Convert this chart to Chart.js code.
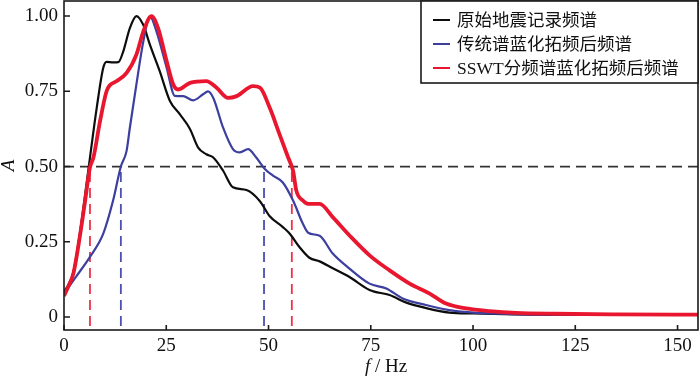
<!DOCTYPE html>
<html>
<head>
<meta charset="utf-8">
<script src="https://cdn.jsdelivr.net/npm/chart.js@4/dist/chart.umd.min.js"></script>
<style>
  html, body { margin: 0; padding: 0; background: #fff; }
  #wrap { width: 700px; height: 380px; }
</style>
</head>
<body>
<div id="wrap"><canvas id="spectrum-chart" width="700" height="380"></canvas></div>
<script>
// tick labels
const xTicks = [0, 25, 50, 75, 100, 125, 150]
const yTicks = [0, 0.25, 0.5, 0.75, 1]

// 原始地震记录频谱
const origF = [0, 1, 2.3, 3.9, 5.1, 6.35, 8, 9.6, 10.4, 12, 13.3, 14.5, 16.1, 17.7, 19.4, 21, 23.4, 25.9, 28.3, 30.8, 32.8, 34.8, 36.5, 38.9, 41.3, 44.6, 47.9, 50.3, 53.5, 55.2, 57.6, 60, 62.5, 65.7, 69.8, 74.7, 79.6, 83.7, 88.5, 94.2, 100, 110, 125, 140, 155]
const origA = [0.085, 0.105, 0.15, 0.28, 0.4, 0.53, 0.695, 0.828, 0.848, 0.846, 0.847, 0.883, 0.96, 1.0, 0.97, 0.905, 0.817, 0.718, 0.674, 0.625, 0.563, 0.541, 0.53, 0.486, 0.431, 0.422, 0.385, 0.335, 0.299, 0.277, 0.232, 0.197, 0.185, 0.162, 0.133, 0.09, 0.073, 0.048, 0.03, 0.015, 0.012, 0.009, 0.007, 0.007, 0.007]

// 传统谱蓝化拓频后频谱
const convF = [0, 3, 6.35, 9.6, 12, 13.9, 15.3, 16.1, 17.7, 19.4, 21, 22.6, 25.1, 27.1, 29.1, 31.6, 34, 35.2, 36.5, 38.9, 41.3, 43, 45, 47, 49.1, 51.1, 53.5, 56, 58.4, 59.7, 62.5, 65.7, 69.8, 74.7, 78.8, 82.8, 88.5, 94.2, 100.8, 110, 125, 155]
const convA = [0.078, 0.135, 0.2, 0.277, 0.387, 0.5, 0.552, 0.629, 0.773, 0.916, 0.999, 0.949, 0.828, 0.735, 0.734, 0.72, 0.74, 0.75, 0.728, 0.629, 0.558, 0.547, 0.558, 0.53, 0.492, 0.47, 0.447, 0.387, 0.31, 0.28, 0.27, 0.211, 0.161, 0.111, 0.095, 0.062, 0.04, 0.023, 0.014, 0.01, 0.008, 0.007]

// SSWT分频谱蓝化拓频后频谱
const sswtF = [0, 1, 2.3, 3.9, 5.1, 6.35, 7.2, 8.8, 10.4, 11.2, 12.9, 15.3, 17.7, 19.4, 21.4, 23, 25.1, 26.7, 27.9, 30.8, 34.8, 37.3, 40.1, 42.2, 46.2, 47.9, 50.3, 52.7, 54.8, 56, 56.8, 58.4, 59.7, 62.5, 65.7, 69.8, 74.7, 79.6, 84.5, 89.4, 93.4, 98.3, 104, 110.5, 120, 135, 155]
const sswtA = [0.07, 0.1, 0.145, 0.27, 0.38, 0.497, 0.53, 0.65, 0.75, 0.77, 0.784, 0.811, 0.872, 0.949, 1.0, 0.96, 0.85, 0.773, 0.756, 0.778, 0.784, 0.762, 0.728, 0.734, 0.767, 0.762, 0.695, 0.607, 0.53, 0.486, 0.42, 0.387, 0.376, 0.376, 0.332, 0.271, 0.205, 0.155, 0.111, 0.078, 0.045, 0.029, 0.02, 0.014, 0.011, 0.009, 0.008]

// 0.5 reference line and the bandwidth markers
const halfLevel = 0.5
const convBand = [13.9, 48.9]
const sswtBand = [6.35, 55.7]
const markerBottom = -0.03

const serif = '"Liberation Serif", "Times New Roman", serif'
const legendFont = '17.5px "Liberation Serif", "Noto Sans CJK SC", serif'

const pts = (xs, ys) => xs.map((x, i) => ({ x: x, y: ys[i] }))

const curve = (label, xs, ys, color, width, order) => ({
  label: label,
  data: pts(xs, ys),
  borderColor: color,
  borderWidth: width,
  pointRadius: 0,
  cubicInterpolationMode: 'monotone',
  fill: false,
  order: order,
  isCurve: true
})

const dashed = (xs, ys, color) => ({
  data: pts(xs, ys),
  borderColor: color,
  borderWidth: 1.8,
  borderDash: [10, 6],
  pointRadius: 0,
  fill: false,
  order: 10
})

const frame = {
  id: 'frame',
  afterDraw(chart) {
    const ctx = chart.ctx
    const a = chart.chartArea
    const xs = chart.scales.x
    const ys = chart.scales.y
    ctx.save()
    ctx.strokeStyle = '#1a1a1a'
    ctx.lineWidth = 1.6
    ctx.strokeRect(a.left, a.top, a.right - a.left, a.bottom - a.top)
    ctx.beginPath()
    xTicks.forEach(v => {
      const px = xs.getPixelForValue(v)
      ctx.moveTo(px, a.bottom)
      ctx.lineTo(px, a.bottom - 5)
    })
    yTicks.forEach(v => {
      const py = ys.getPixelForValue(v)
      ctx.moveTo(a.left, py)
      ctx.lineTo(a.left + 6, py)
    })
    ctx.stroke()

    // axis titles
    ctx.fillStyle = '#111'
    ctx.textBaseline = 'middle'
    ctx.font = 'italic 19px ' + serif
    const fw = ctx.measureText('f').width
    ctx.font = '19px ' + serif
    const rest = ' / Hz'
    const rw = ctx.measureText(rest).width
    const cx = (a.left + a.right) / 2 + 5
    const tx = cx - (fw + rw) / 2
    ctx.font = 'italic 19px ' + serif
    ctx.textAlign = 'left'
    ctx.fillText('f', tx, 367)
    ctx.font = '19px ' + serif
    ctx.fillText(rest, tx + fw, 367)

    ctx.translate(9, (a.top + a.bottom) / 2)
    ctx.rotate(-Math.PI / 2)
    ctx.textAlign = 'center'
    ctx.font = 'italic 19px ' + serif
    ctx.fillText('A', 0, 0)
    ctx.restore()

    // legend
    ctx.save()
    const bx = 421, by = a.top, bw = a.right - 421, bh = 82
    ctx.fillStyle = '#fff'
    ctx.fillRect(bx, by, bw, bh)
    ctx.strokeStyle = '#1a1a1a'
    ctx.lineWidth = 1.6
    ctx.strokeRect(bx, by, bw, bh)
    ctx.font = legendFont
    ctx.textBaseline = 'middle'
    ctx.textAlign = 'left'
    const curves = chart.data.datasets.filter(d => d.isCurve)
    curves.forEach((d, i) => {
      const y = by + 19 + i * 24
      ctx.strokeStyle = d.borderColor
      ctx.lineWidth = 2
      ctx.beginPath()
      ctx.moveTo(433, y)
      ctx.lineTo(450, y)
      ctx.stroke()
      ctx.fillStyle = '#111'
      ctx.fillText(d.label, 457, y + 1)
    })
    ctx.restore()
  }
}

new Chart(document.querySelector('#spectrum-chart'), {
  type: 'line',
  data: {
    datasets: [
      curve('原始地震记录频谱', origF, origA, '#0d0d0d', 2.2, 3),
      curve('传统谱蓝化拓频后频谱', convF, convA, '#3c3f9e', 2.2, 2),
      curve('SSWT分频谱蓝化拓频后频谱', sswtF, sswtA, '#e8162e', 3.8, 1),
      dashed([0, 155], [halfLevel, halfLevel], '#333'),
      dashed([convBand[0], convBand[0]], [markerBottom, halfLevel], '#4a4fb0'),
      dashed([convBand[1], convBand[1]], [markerBottom, halfLevel], '#4a4fb0'),
      dashed([sswtBand[0], sswtBand[0]], [markerBottom, halfLevel], '#ee3346'),
      dashed([sswtBand[1], sswtBand[1]], [markerBottom, halfLevel], '#ee3346')
    ]
  },
  options: {
    responsive: false,
    animation: false,
    layout: { padding: { top: 1, right: 2, left: 0, bottom: 0 } },
    plugins: {
      legend: { display: false },
      tooltip: { enabled: false }
    },
    scales: {
      x: {
        type: 'linear',
        min: 0,
        max: 155,
        grid: { display: false, drawTicks: false },
        border: { display: false },
        afterBuildTicks: s => { s.ticks = xTicks.map(v => ({ value: v })) },
        afterFit: s => { s.height = 50; s.paddingLeft = 0; s.paddingRight = 0 },
        ticks: {
          padding: 5,
          color: '#111',
          font: { family: serif, size: 19 }
        }
      },
      y: {
        type: 'linear',
        min: -0.043,
        max: 1.05,
        grid: { display: false, drawTicks: false },
        border: { display: false },
        afterBuildTicks: s => { s.ticks = yTicks.map(v => ({ value: v })) },
        afterFit: s => { s.width = 64; s.paddingTop = 0; s.paddingBottom = 0 },
        ticks: {
          padding: 6,
          color: '#111',
          font: { family: serif, size: 19 },
          callback: v => v === 0 ? '0' : v.toFixed(2)
        }
      }
    }
  },
  plugins: [frame]
})
</script>
</body>
</html>
